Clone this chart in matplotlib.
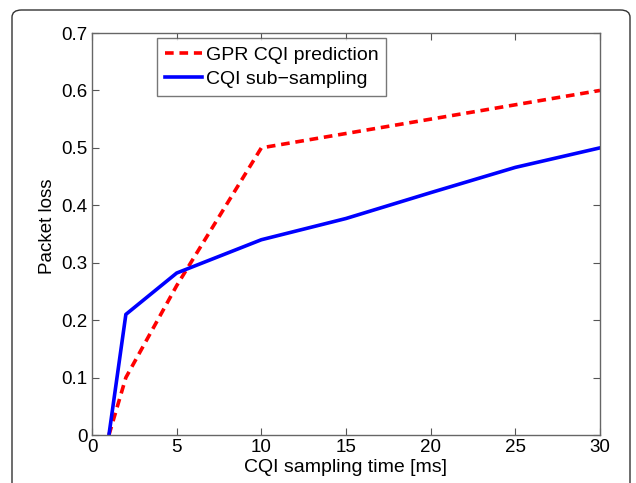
import matplotlib
matplotlib.use("Agg")
import matplotlib.pyplot as plt
from matplotlib.patches import FancyBboxPatch

plt.rcParams['font.family'] = ['Liberation Sans', 'DejaVu Sans']

x_gpr = [1, 2, 5, 10, 15, 20, 25, 30]
y_gpr = [0.0, 0.10, 0.26, 0.50, 0.525, 0.55, 0.575, 0.60]
x_sub = [1, 2, 5, 10, 15, 20, 25, 30]
y_sub = [0.0, 0.21, 0.282, 0.34, 0.377, 0.422, 0.466, 0.50]
xticks = [0, 5, 10, 15, 20, 25, 30]
yticks = [0, 0.1, 0.2, 0.3, 0.4, 0.5, 0.6, 0.7]
ytick_labels = ['0', '0.1', '0.2', '0.3', '0.4', '0.5', '0.6', '0.7']

fig = plt.figure(figsize=(6.36, 4.83), dpi=100)
frame = FancyBboxPatch((12/636, -0.05), 618/636, 1 - 10/483 + 0.05,
                       boxstyle="round,pad=0,rounding_size=0.015",
                       transform=fig.transFigure, facecolor='white',
                       edgecolor='#333333', linewidth=1.0, zorder=-10)
fig.patches.append(frame)

ax = fig.add_axes([92/636, 48/483, 508/636, 402/483])
ax.plot(x_gpr, y_gpr, color='red', lw=2.6, ls=(0, (2.4, 1.6)), label='GPR CQI prediction')
ax.plot(x_sub, y_sub, color='blue', lw=2.6, label='CQI sub\u2212sampling')
ax.set_xlim(0, 30)
ax.set_ylim(0, 0.7)
ax.set_xticks(xticks)
ax.set_yticks(yticks)
ax.set_yticklabels(ytick_labels)
ax.tick_params(direction='in', top=True, right=True, labelsize=13.5, length=5,
               color='#555555', width=0.8, pad=3)
for s in ax.spines.values():
    s.set_color('#666666')
    s.set_linewidth(1.0)
ax.set_xlabel('CQI sampling time [ms]', fontsize=14, labelpad=2)
ax.set_ylabel('Packet loss', fontsize=13.5)
ax.yaxis.set_label_coords(-0.071, 0.52)
leg = ax.legend(loc='upper left', bbox_to_anchor=(0.128, 0.987), fontsize=14,
                frameon=True, fancybox=False, edgecolor='#555555',
                handlelength=1.9, handletextpad=0.2, borderpad=0.4,
                labelspacing=0.35, borderaxespad=0)
leg.get_frame().set_linewidth(1.0)
fig.savefig('out.png', dpi=100)
